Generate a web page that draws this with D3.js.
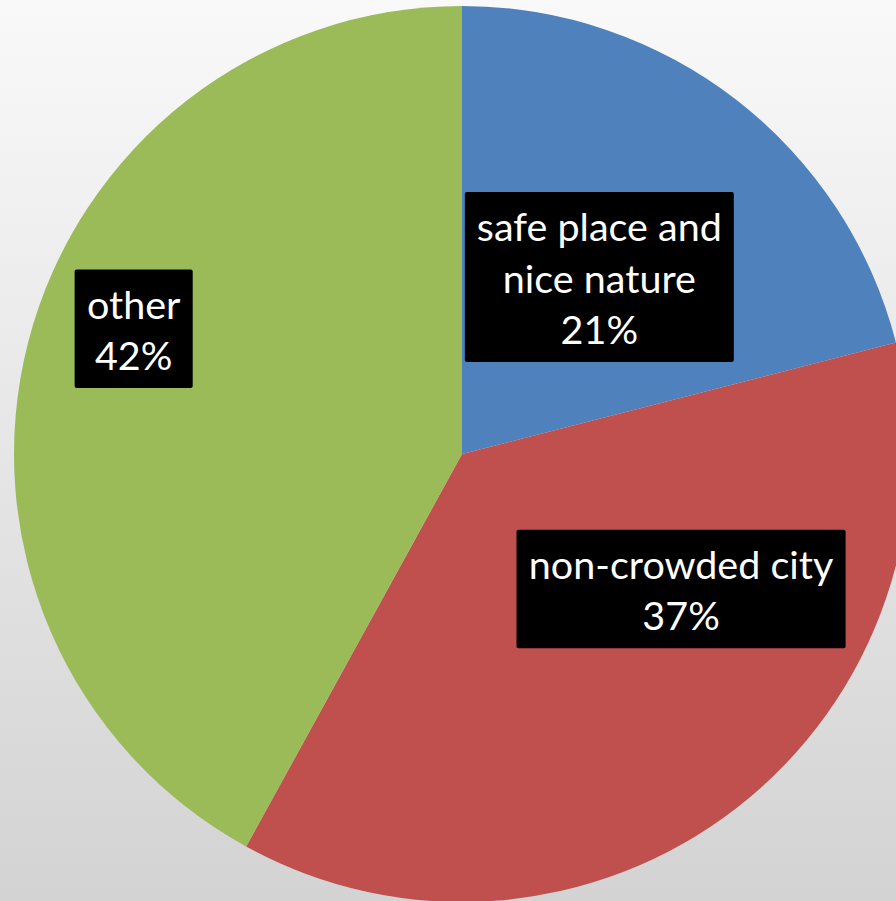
<!DOCTYPE html>
<html>
<head>
<meta charset="utf-8">
<script src="https://cdn.jsdelivr.net/npm/d3@7"></script>
<style>
html, body { margin: 0; padding: 0; overflow: hidden; }
svg { display: block; }
</style>
</head>
<body>
<script>
// ---- data ----
const categories = ["safe place and nice nature", "non-crowded city", "other"];
const labelLines = [["safe place and", "nice nature"], ["non-crowded city"], ["other"]];
const values = [21, 37, 42];
const colors = ["#4F81BD", "#C0504D", "#9BBB59"];
// label placement (angle in degrees clockwise from top, radius as fraction of pie radius)
const labelAngles = [37.9, 121.75, 290.8];
const labelRadii = [0.499, 0.575, 0.784];

const W = 896, H = 901;
const cx = 462, cy = 454, R = 448;

const svg = d3.select("body").append("svg").attr("width", W).attr("height", H);
const defs = svg.append("defs");
const grad = defs.append("linearGradient").attr("id", "bg").attr("x1", 0).attr("y1", 0).attr("x2", 0).attr("y2", 1);
grad.append("stop").attr("offset", "0%").attr("stop-color", "#f9f9f9");
grad.append("stop").attr("offset", "100%").attr("stop-color", "#d3d3d3");
svg.append("rect").attr("width", W).attr("height", H).attr("fill", "url(#bg)");

const pie = d3.pie().sort(null).value(d => d);
const arcs = pie(values);
const arc = d3.arc().innerRadius(0).outerRadius(R);

const g = svg.append("g").attr("transform", `translate(${cx},${cy})`);
g.selectAll("path").data(arcs).join("path")
  .attr("d", arc)
  .attr("fill", (d, i) => colors[i]);

const fontSize = 39.5;
const lineH = 51.5;
const total = d3.sum(values);
arcs.forEach((d, i) => {
  const a = labelAngles[i] * Math.PI / 180;
  const r = labelRadii[i] * R;
  const x = Math.sin(a) * r, y = -Math.cos(a) * r;
  const lines = labelLines[i].concat([d3.format(".0%")(values[i] / total)]);
  const lg = g.append("g").attr("transform", `translate(${x},${y})`);
  const rect = lg.append("rect").attr("fill", "#000").attr("rx", 2).attr("ry", 2);
  const n = lines.length;
  const firstBase = -(n - 1) * lineH / 2 + 15;
  const txt = lg.append("text")
    .attr("text-anchor", "middle")
    .attr("fill", "#fff")
    .style("font-family", "Lato, 'Open Sans', sans-serif")
    .style("font-size", fontSize + "px");
  lines.forEach((t, j) => {
    txt.append("tspan").attr("x", 0).attr("y", firstBase + j * lineH).text(t);
  });
  const bb = txt.node().getBBox();
  const top = firstBase - 49, bottom = firstBase + (n - 1) * lineH + 18;
  rect.attr("x", -bb.width / 2 - 12).attr("width", bb.width + 24)
      .attr("y", top).attr("height", bottom - top);
});
</script>
</body>
</html>
